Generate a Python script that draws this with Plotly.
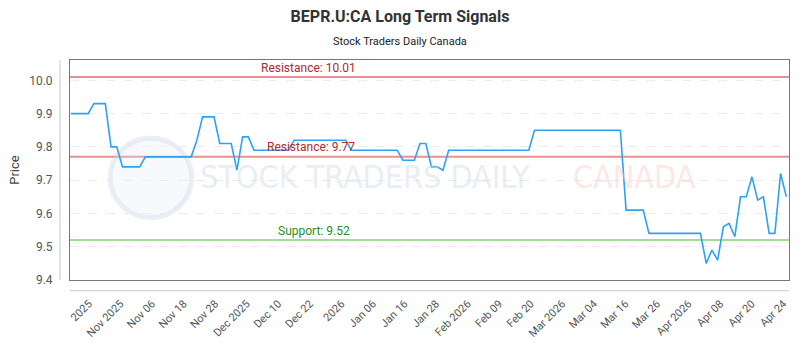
import plotly.graph_objects as go

# ---- data ----
prices = [
    9.90, 9.90, 9.90, 9.90,
    9.93, 9.93, 9.93,
    9.80, 9.80,
    9.74, 9.74, 9.74, 9.74,
    9.77, 9.77, 9.77, 9.77, 9.77, 9.77, 9.77, 9.77, 9.77,
    9.82,
    9.89, 9.89, 9.89,
    9.81, 9.81, 9.81,
    9.73,
    9.83, 9.83,
    9.79, 9.79, 9.79, 9.79, 9.79, 9.79, 9.79,
    9.82, 9.82, 9.82, 9.82, 9.82, 9.82, 9.82, 9.82, 9.82, 9.82,
    9.79, 9.79, 9.79, 9.79, 9.79, 9.79, 9.79, 9.79, 9.79,
    9.76, 9.76, 9.76,
    9.81, 9.81,
    9.74, 9.74,
    9.73,
    9.79, 9.79, 9.79, 9.79, 9.79, 9.79, 9.79, 9.79, 9.79, 9.79, 9.79, 9.79, 9.79, 9.79, 9.79,
    9.85, 9.85, 9.85, 9.85, 9.85, 9.85, 9.85, 9.85, 9.85, 9.85, 9.85, 9.85, 9.85, 9.85, 9.85, 9.85,
    9.61, 9.61, 9.61, 9.61,
    9.54, 9.54, 9.54, 9.54, 9.54, 9.54, 9.54, 9.54, 9.54, 9.54,
    9.45, 9.49, 9.46, 9.56, 9.57, 9.53, 9.65, 9.65, 9.71, 9.64, 9.65, 9.54, 9.54, 9.72, 9.65,
]
x_index = list(range(len(prices)))

tick_labels = ["2025", "Nov 2025", "Nov 06", "Nov 18", "Nov 28", "Dec 2025", "Dec 10",
               "Dec 22", "2026", "Jan 06", "Jan 16", "Jan 28", "Feb 2026", "Feb 09",
               "Feb 20", "Mar 2026", "Mar 04", "Mar 16", "Mar 26", "Apr 2026", "Apr 08",
               "Apr 20", "Apr 24"]

resistance_high = 10.01
resistance_low = 9.77
support = 9.52

# ---- layout helpers ----
PX_PER_PT = 5.73
tick_vals = [(89 + k * 31.6 - 71) / PX_PER_PT for k in range(len(tick_labels))]

FONT = "Roboto, 'Open Sans', sans-serif"
RED_LINE = "#e99090"
GREEN_LINE = "#a8d89c"

fig = go.Figure()
fig.add_trace(go.Scatter(
    x=x_index, y=prices, mode="lines",
    line=dict(color="#2ea2f2", width=1.6),
    hoverinfo="y", showlegend=False,
))

shapes = []
for lvl, col in [(resistance_high, RED_LINE), (resistance_low, RED_LINE), (support, GREEN_LINE)]:
    shapes.append(dict(type="line", xref="paper", x0=0, x1=1, yref="y", y0=lvl, y1=lvl,
                       line=dict(color=col, width=2), layer="below"))
# offset axis lines
shapes.append(dict(type="line", xref="paper", yref="paper", x0=-10 / 720, x1=-10 / 720, y0=0, y1=1,
                   line=dict(color="#c8c8c8", width=1)))
shapes.append(dict(type="line", xref="paper", yref="paper", x0=0, x1=1, y0=-11 / 226, y1=-11 / 226,
                   line=dict(color="#c8c8c8", width=1)))
# watermark logo circle
shapes.append(dict(type="circle", xref="paper", yref="paper",
                   x0=(110 - 70) / 720, x1=(192 - 70) / 720,
                   y0=(286 - 222) / 226, y1=(286 - 140) / 226,
                   line=dict(color="rgba(200,210,230,0.35)", width=5),
                   fillcolor="rgba(225,232,245,0.25)", layer="below"))

WM_FONT = "'Liberation Sans Narrow', 'DejaVu Sans Condensed', Roboto, sans-serif"
annotations = [
    dict(text="Resistance: 10.01", x=41.5, y=resistance_high, xref="x", yref="y",
         yanchor="bottom", yshift=0, showarrow=False,
         font=dict(family=FONT, size=12, color="#b22a2a")),
    dict(text="Resistance: 9.77", x=42.0, y=resistance_low, xref="x", yref="y",
         yanchor="bottom", yshift=1, showarrow=False,
         font=dict(family=FONT, size=12, color="#b22a2a")),
    dict(text="Support: 9.52", x=42.5, y=support, xref="x", yref="y",
         yanchor="bottom", yshift=0, showarrow=False,
         font=dict(family=FONT, size=12, color="#2e8b2e")),
    dict(text="STOCK TRADERS DAILY", xref="paper", yref="paper",
         x=(365 - 70) / 720, y=(286 - 180) / 226, xanchor="center", yanchor="middle",
         showarrow=False,
         font=dict(family=WM_FONT, size=32, color="rgba(205,215,232,0.45)")),
    dict(text="CANADA", xref="paper", yref="paper",
         x=(635 - 70) / 720, y=(286 - 180) / 226, xanchor="center", yanchor="middle",
         showarrow=False,
         font=dict(family=WM_FONT, size=32, color="rgba(250,200,200,0.45)")),
    dict(text="Stock Traders Daily Canada", xref="paper", yref="paper",
         x=(400 - 70) / 720, y=(286 - 41) / 226, xanchor="center", yanchor="middle",
         showarrow=False,
         font=dict(family=FONT, size=11, color="#222")),
]

fig.update_layout(
    width=800, height=350,
    margin=dict(l=70, r=10, t=60, b=64),
    paper_bgcolor="white", plot_bgcolor="white",
    title=dict(text="<b>BEPR.U:CA Long Term Signals</b>", x=0.5, xanchor="center",
               y=1 - 16 / 350, yanchor="middle",
               font=dict(family=FONT, size=16, color="#333")),
    shapes=shapes, annotations=annotations,
    xaxis=dict(range=[-0.17, 125.47], tickmode="array", tickvals=tick_vals,
               ticktext=tick_labels, tickangle=-45, showgrid=False, zeroline=False,
               showline=True, mirror=True, linecolor="#777", linewidth=1,
               ticks="outside", ticklen=12, tickcolor="rgba(0,0,0,0)",
               tickfont=dict(family=FONT, size=11, color="#555")),
    yaxis=dict(range=[9.4, 10.061], tickmode="array",
               tickvals=[9.4, 9.5, 9.6, 9.7, 9.8, 9.9, 10.0],
               ticktext=["9.4", "9.5", "9.6", "9.7", "9.8", "9.9", "10.0"],
               showgrid=True, gridcolor="#ececec", griddash="dash", gridwidth=1,
               zeroline=False, showline=True, mirror=True, linecolor="#777", linewidth=1,
               ticks="outside", ticklen=14, tickcolor="rgba(0,0,0,0)",
               tickfont=dict(family=FONT, size=12, color="#555"),
               title=dict(text="Price", standoff=6,
                          font=dict(family=FONT, size=13, color="#444"))),
)

fig.write_html("out.html")
